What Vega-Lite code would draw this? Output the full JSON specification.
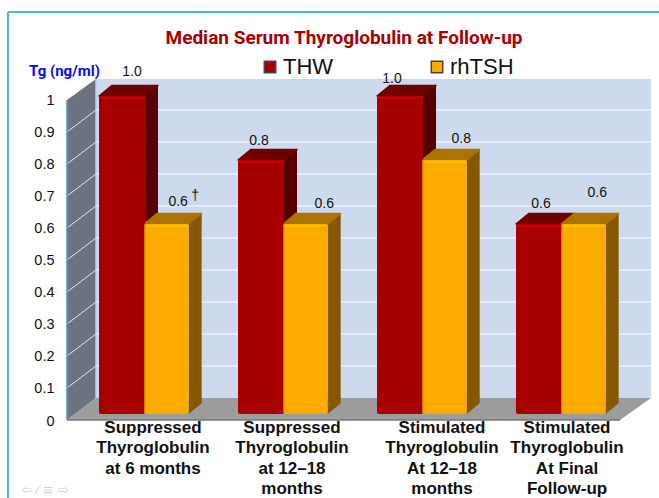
{"$schema":"https://vega.github.io/schema/vega-lite/v6.json","width":584,"height":341,"autosize":{"type":"none"},"padding":{"left":67,"top":79,"right":8,"bottom":78},"background":"white","view":{"stroke":null},
"title":{"text":"Median Serum Thyroglobulin at Follow-up","font":"Roboto","fontSize":19,"fontWeight":"bold","color":"#a80000","anchor":"middle","frame":"group","dx":-15,"offset":-37},
"datasets":{"bars":[
{"group":0,"category":"Suppressed Thyroglobulin at 6 months","series":"THW","value":1.0},
{"group":0,"category":"Suppressed Thyroglobulin at 6 months","series":"rhTSH","value":0.6},
{"group":1,"category":"Suppressed Thyroglobulin at 12–18 months","series":"THW","value":0.8},
{"group":1,"category":"Suppressed Thyroglobulin at 12–18 months","series":"rhTSH","value":0.6},
{"group":2,"category":"Stimulated Thyroglobulin At 12–18 months","series":"THW","value":1.0},
{"group":2,"category":"Stimulated Thyroglobulin At 12–18 months","series":"rhTSH","value":0.8},
{"group":3,"category":"Stimulated Thyroglobulin At Final Follow-up","series":"THW","value":0.6},
{"group":3,"category":"Stimulated Thyroglobulin At Final Follow-up","series":"rhTSH","value":0.6}],
"ticks":[{"py":0.1},{"py":0.2},{"py":0.3},{"py":0.4},{"py":0.5},{"py":0.6},{"py":0.7},{"py":0.8},{"py":0.9}],
"cats":[{"group":0,"line":"Suppressed\nThyroglobulin\nat 6 months"},{"group":1,"line":"Suppressed\nThyroglobulin\nat 12–18\nmonths"},{"group":2,"line":"Stimulated\nThyroglobulin\nAt 12–18\nmonths"},{"group":3,"line":"Stimulated\nThyroglobulin\nAt Final\nFollow-up"}]},
"encoding":{"x":{"field":"px","type":"quantitative","scale":{"domain":[-0.2302,3.971],"nice":false,"zero":false},"axis":null},
"y":{"field":"py","type":"quantitative","stack":null,"scale":{"domain":[0,1.0656],"nice":false,"zero":false},"axis":{"values":[0,0.1,0.2,0.3,0.4,0.5,0.6,0.7,0.8,0.9,1],"format":"~g","grid":false,"domain":false,"ticks":false,"labelPadding":13,"labelOffset":1,"labelFont":"Liberation Sans","labelFontSize":14.5,"labelColor":"#111","title":"Tg (ng/ml)","titleAngle":0,"titleX":-3,"titleY":-9,"titleAlign":"center","titleBaseline":"middle","titleFont":"Roboto","titleFontSize":15,"titleFontWeight":"bold","titleColor":"#0a0aee"}}},
"layer":[
{"data":{"values":[{"px":-0.655,"px2":4.03,"py":1.275}]},"mark":{"type":"rule","stroke":"#4fb4d8","strokeWidth":2},"encoding":{"x2":{"field":"px2"}}},
{"data":{"values":[{"px":-0.655,"py":1.275,"py2":-0.244}]},"mark":{"type":"rule","stroke":"#4fb4d8","strokeWidth":2},"encoding":{"y2":{"field":"py2"}}},
{"data":{"values":[{"px":-0.0216,"px2":3.971,"py":0.0688,"py2":1.0656}]},"mark":{"type":"rect","fill":"#cdd9ed"},"encoding":{"x2":{"field":"px2"},"y2":{"field":"py2"}}},
{"data":{"name":"ticks"},"transform":[{"calculate":"datum.py+0.0688","as":"py"},{"calculate":"-0.0216","as":"px"},{"calculate":"3.971","as":"px2"}],"mark":{"type":"rule","stroke":"#eef2fa","strokeWidth":1.5},"encoding":{"x2":{"field":"px2"}}},
{"data":{"values":[{"px":-0.2302,"py":1,"py2":0},{"px":-0.0216,"py":1.0656,"py2":0.0688}]},"mark":{"type":"area","fill":"#6b7280"},"encoding":{"y2":{"field":"py2"}}},
{"data":{"values":[{"px":-0.2302,"py":0,"py2":0},{"px":-0.0216,"py":0.0688,"py2":0},{"px":3.748,"py":0.0688,"py2":0},{"px":3.971,"py":0.0688,"py2":0.0688}]},"mark":{"type":"area","fill":"#9c9c9c"},"encoding":{"y2":{"field":"py2"}}},
{"data":{"name":"ticks"},"transform":[{"calculate":"datum.py+0.0688","as":"py2"},{"calculate":"-0.2302","as":"px"},{"calculate":"-0.0216","as":"px2"}],"mark":{"type":"rule","stroke":"#e4e8ee","strokeWidth":1},"encoding":{"x2":{"field":"px2"},"y2":{"field":"py2"}}},
{"data":{"values":[{"px":-0.2302,"py":0,"py2":1}]},"mark":{"type":"rule","stroke":"#5b8ad0","strokeWidth":1.5},"encoding":{"y2":{"field":"py2"}}},
{"data":{"values":[{"px":-0.0216,"py":0.0688,"py2":1.0656}]},"mark":{"type":"rule","stroke":"#b9cfee","strokeWidth":1.5},"encoding":{"y2":{"field":"py2"}}},
{"data":{"values":[{"px":-0.2302,"px2":3.748,"py":0}]},"mark":{"type":"rule","stroke":"#777","strokeWidth":1.5},"encoding":{"x2":{"field":"px2"}}},
{"data":{"name":"bars"},"transform":[{"calculate":"datum.group+(datum.series==='rhTSH'?0.325:0)","as":"L"},{"calculate":"datum.L+(datum.series==='rhTSH'?0.32:0.331)","as":"R"},{"calculate":"datum.value+0.0125","as":"T"},{"calculate":"0.019","as":"B"},{"calculate":"datum.group+'-'+datum.series","as":"id"}],
"layer":[
{"transform":[{"calculate":"[0,1]","as":"d"},{"flatten":["d"]},{"calculate":"datum.R+datum.d*0.0935","as":"px"},{"calculate":"datum.T+datum.d*0.033","as":"py"},{"calculate":"datum.B+datum.d*0.033","as":"py2"}],"mark":{"type":"area"},"encoding":{"y2":{"field":"py2"},"detail":{"field":"id"},"fill":{"condition":{"test":"datum.series==='THW'","value":"#560000"},"value":"#855700"}}},
{"transform":[{"calculate":"[0,1,2,3]","as":"d"},{"flatten":["d"]},{"calculate":"datum.d<2?datum.L+datum.d*0.0935:datum.R+(datum.d-2)*0.0935","as":"px"},{"calculate":"datum.d==0?datum.T:datum.T+0.033","as":"py"},{"calculate":"datum.d==3?datum.T+0.033:datum.T","as":"py2"}],"mark":{"type":"area","strokeWidth":1.5,"strokeJoin":"round"},"encoding":{"y2":{"field":"py2"},"detail":{"field":"id"},"fill":{"condition":{"test":"datum.series==='THW'","value":"#700000"},"value":"#ab7300"},"stroke":{"condition":{"test":"datum.series==='THW'","value":"#700000"},"value":"#ab7300"}}},
{"transform":[{"calculate":"datum.L","as":"px"},{"calculate":"datum.T","as":"py"}],"mark":{"type":"rect","cornerRadius":2},"encoding":{"x2":{"field":"R"},"y2":{"field":"B"},"color":{"field":"series","type":"nominal","scale":{"domain":["THW","rhTSH"],"range":["#a80000","#ffaa00"]},"legend":{"title":null,"orient":"none","legendX":192,"legendY":-23,"direction":"horizontal","columns":2,"columnPadding":92,"symbolType":"square","symbolSize":130,"symbolStrokeWidth":1.5,"symbolStrokeColor":"#444","labelFont":"Liberation Sans","labelFontSize":22,"labelColor":"#111","labelOffset":2,"labelLimit":200}}}},
{"transform":[{"calculate":"datum.L+0.005","as":"px"},{"calculate":"datum.R-0.005","as":"px2"},{"calculate":"datum.T-0.002","as":"py"},{"calculate":"datum.T-0.009","as":"py2"}],"mark":{"type":"rect"},"encoding":{"x2":{"field":"px2"},"y2":{"field":"py2"},"fill":{"condition":{"test":"datum.series==='THW'","value":"#cc0000"},"value":"#ffc000"}}},
{"transform":[{"filter":"datum.series==='rhTSH'"},{"calculate":"datum.L","as":"px"},{"calculate":"datum.T","as":"py"},{"calculate":"datum.L+0.008","as":"px2"}],"mark":{"type":"rect","fill":"#c07a00"},"encoding":{"x2":{"field":"px2"},"y2":{"field":"B"}}},
{"transform":[{"filter":"datum.group==0&&datum.series==='THW'"},{"calculate":"datum.L","as":"px"},{"calculate":"datum.value","as":"py"}],"mark":{"type":"text","dx":33,"dy":-28,"font":"Liberation Sans","fontSize":14,"fill":"#111","baseline":"middle"},"encoding":{"text":{"field":"value","format":".1f"}}},
{"transform":[{"filter":"datum.group==0&&datum.series==='rhTSH'"},{"calculate":"datum.L","as":"px"},{"calculate":"datum.value","as":"py"}],"mark":{"type":"text","dx":34,"dy":-26,"font":"Liberation Sans","fontSize":14,"fill":"#111","baseline":"middle"},"encoding":{"text":{"field":"value","format":".1f"}}},
{"transform":[{"filter":"datum.group==0&&datum.series==='rhTSH'"},{"calculate":"datum.L","as":"px"},{"calculate":"datum.value","as":"py"}],"mark":{"type":"text","dx":51,"dy":-32,"font":"Liberation Sans","fontSize":14,"fill":"#111","baseline":"middle","text":"†"}},
{"transform":[{"filter":"datum.group==1&&datum.series==='THW'"},{"calculate":"datum.L","as":"px"},{"calculate":"datum.value","as":"py"}],"mark":{"type":"text","dx":21,"dy":-23,"font":"Liberation Sans","fontSize":14,"fill":"#111","baseline":"middle"},"encoding":{"text":{"field":"value","format":".1f"}}},
{"transform":[{"filter":"datum.group==1&&datum.series==='rhTSH'"},{"calculate":"datum.L","as":"px"},{"calculate":"datum.value","as":"py"}],"mark":{"type":"text","dx":41,"dy":-24,"font":"Liberation Sans","fontSize":14,"fill":"#111","baseline":"middle"},"encoding":{"text":{"field":"value","format":".1f"}}},
{"transform":[{"filter":"datum.group==2&&datum.series==='THW'"},{"calculate":"datum.L","as":"px"},{"calculate":"datum.value","as":"py"}],"mark":{"type":"text","dx":15,"dy":-21,"font":"Liberation Sans","fontSize":14,"fill":"#111","baseline":"middle"},"encoding":{"text":{"field":"value","format":".1f"}}},
{"transform":[{"filter":"datum.group==2&&datum.series==='rhTSH'"},{"calculate":"datum.L","as":"px"},{"calculate":"datum.value","as":"py"}],"mark":{"type":"text","dx":39,"dy":-25,"font":"Liberation Sans","fontSize":14,"fill":"#111","baseline":"middle"},"encoding":{"text":{"field":"value","format":".1f"}}},
{"transform":[{"filter":"datum.group==3&&datum.series==='THW'"},{"calculate":"datum.L","as":"px"},{"calculate":"datum.value","as":"py"}],"mark":{"type":"text","dx":25,"dy":-24,"font":"Liberation Sans","fontSize":14,"fill":"#111","baseline":"middle"},"encoding":{"text":{"field":"value","format":".1f"}}},
{"transform":[{"filter":"datum.group==3&&datum.series==='rhTSH'"},{"calculate":"datum.L","as":"px"},{"calculate":"datum.value","as":"py"}],"mark":{"type":"text","dx":36,"dy":-35,"font":"Liberation Sans","fontSize":14,"fill":"#111","baseline":"middle"},"encoding":{"text":{"field":"value","format":".1f"}}}
]},
{"data":{"name":"cats"},"transform":[{"filter":"datum.group<2"},{"calculate":"datum.group","as":"px"},{"calculate":"0","as":"py"}],"mark":{"type":"text","dx":54,"dy":0,"font":"Liberation Sans","fontWeight":"bold","fontSize":17,"lineHeight":20.3,"fill":"#111","baseline":"top","lineBreak":"\n"},"encoding":{"text":{"field":"line"}}},
{"data":{"name":"cats"},"transform":[{"filter":"datum.group==2"},{"calculate":"datum.group","as":"px"},{"calculate":"0","as":"py"}],"mark":{"type":"text","dx":65,"dy":0,"font":"Liberation Sans","fontWeight":"bold","fontSize":17,"lineHeight":20.3,"fill":"#111","baseline":"top","lineBreak":"\n"},"encoding":{"text":{"field":"line"}}},
{"data":{"name":"cats"},"transform":[{"filter":"datum.group==3"},{"calculate":"datum.group","as":"px"},{"calculate":"0","as":"py"}],"mark":{"type":"text","dx":51,"dy":0,"font":"Liberation Sans","fontWeight":"bold","fontSize":17,"lineHeight":20.3,"fill":"#111","baseline":"top","lineBreak":"\n"},"encoding":{"text":{"field":"line"}}},
{"data":{"values":[{"px":-0.388,"py":-0.219,"label":"⇦ ⁄ ≡ ⇨"}]},"mark":{"type":"text","font":"DejaVu Sans","fontSize":13,"fill":"#d4d4d4","baseline":"middle"},"encoding":{"text":{"field":"label"}}}
]}
